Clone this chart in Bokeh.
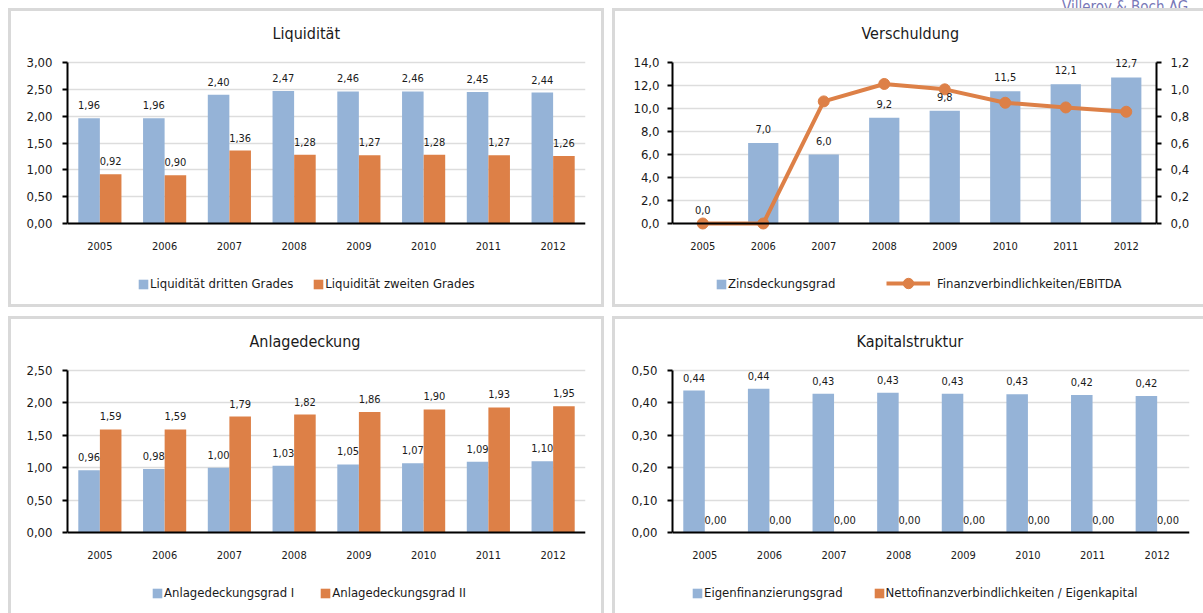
from bokeh.plotting import figure
from bokeh.models import (ColumnDataSource, FactorRange, Range1d, LinearAxis, Legend, LegendItem,
                          LabelSet, FixedTicker, CustomJSTickFormatter, Div)
from bokeh.transform import dodge
from bokeh.layouts import row, column
from bokeh.core.properties import value
from bokeh.embed import file_html
from bokeh.resources import INLINE

# ---------------- data ----------------
years = ["2005", "2006", "2007", "2008", "2009", "2010", "2011", "2012"]

liq_dritten = [1.96, 1.96, 2.40, 2.47, 2.46, 2.46, 2.45, 2.44]
liq_zweiten = [0.92, 0.90, 1.36, 1.28, 1.27, 1.28, 1.27, 1.26]
liq_ticks = [0.0, 0.5, 1.0, 1.5, 2.0, 2.5, 3.0]

zinsdeckung = [0.0, 7.0, 6.0, 9.2, 9.8, 11.5, 12.1, 12.7]
fin_ebitda = [0.0, 0.0, 0.91, 1.04, 1.00, 0.90, 0.865, 0.833]
zins_ticks = [0, 2, 4, 6, 8, 10, 12, 14]
ratio_ticks = [0.0, 0.2, 0.4, 0.6, 0.8, 1.0, 1.2]

anlage_1 = [0.96, 0.98, 1.00, 1.03, 1.05, 1.07, 1.09, 1.10]
anlage_2 = [1.59, 1.59, 1.79, 1.82, 1.86, 1.90, 1.93, 1.95]
anlage_ticks = [0.0, 0.5, 1.0, 1.5, 2.0, 2.5]

eigenfin = [0.438, 0.444, 0.428, 0.431, 0.428, 0.427, 0.424, 0.421]
netto_ek = [0.0, 0.0, 0.0, 0.0, 0.0, 0.0, 0.0, 0.0]
kap_ticks = [0.0, 0.1, 0.2, 0.3, 0.4, 0.5]

# ---------------- style ----------------
FONT = "DejaVu Sans Condensed"
BLUE = "#95B3D7"
ORANGE = "#DD8047"
GRID = "#DDDDDD"
EDGE = "#D9D9D9"
TXT = "#1A1A1A"


def fmt(v, d):
    return f"{v:.{d}f}".replace(".", ",")


def span(vmax, ft, fb, y0, ytop):
    """Range whose 0 and vmax land on pixel rows y0 / ytop of a frame spanning ft..fb."""
    k = (y0 - ytop) / vmax
    return (-(fb - y0) / k, vmax + (ytop - ft) / k)


def style_y(ax, ticks, dec, standoff, vmax):
    ax.ticker = FixedTicker(ticks=ticks)
    ax.formatter = CustomJSTickFormatter(code=f"return tick.toFixed({dec}).replace('.', ',');")
    ax.bounds = (0, vmax)
    ax.axis_line_color = "black"
    ax.axis_line_width = 2
    ax.major_tick_line_color = "black"
    ax.major_tick_line_width = 2
    ax.major_tick_out = 5
    ax.major_tick_in = 0
    ax.minor_tick_line_color = None
    ax.major_label_text_font = FONT
    ax.major_label_text_font_size = "13px"
    ax.major_label_text_color = TXT
    ax.major_label_standoff = standoff


def make_fig(title, w, h, vmax, ticks, dec, frame, y0, ytop, shadow, ystandoff, title_off):
    fl, fr, ft, fb = frame
    lo, hi = span(vmax, ft, fb, y0, ytop)
    p = figure(x_range=FactorRange(*years), y_range=Range1d(lo, hi), width=w, height=h,
               output_backend="svg", toolbar_location=None, tools="", title=title,
               min_border_left=fl, min_border_right=w - fr,
               min_border_top=ft, min_border_bottom=h - fb)
    p.styles = {"box-shadow": shadow}
    p.border_fill_color = None
    p.background_fill_color = None
    p.outline_line_color = None
    p.title.align = "left"
    p.title.offset = title_off
    p.title.text_font = FONT
    p.title.text_font_size = "16px"
    p.title.text_font_style = "normal"
    p.title.text_color = TXT
    p.title.standoff = 15
    p.xgrid.visible = False
    p.ygrid.ticker = FixedTicker(ticks=ticks)
    p.ygrid.grid_line_color = GRID
    p.ygrid.grid_line_width = 1.5
    style_y(p.yaxis[0], ticks, dec, ystandoff, vmax)
    xa = p.xaxis[0]
    xa.fixed_location = 0
    xa.axis_line_color = "black"
    xa.axis_line_width = 2
    xa.major_tick_line_color = None
    xa.major_tick_out = 0
    xa.major_tick_in = 0
    xa.major_label_text_font = FONT
    xa.major_label_text_font_size = "11px"
    xa.major_label_text_color = TXT
    xa.major_label_standoff = 18
    return p


def bar_pair(p, a, b, dec, width=0.333, shift=0.1667):
    src = ColumnDataSource(dict(x=years, a=a, b=b,
                                la=[fmt(v, dec) for v in a], lb=[fmt(v, dec) for v in b]))
    r1 = p.vbar(x=dodge("x", -shift, range=p.x_range), top="a", width=width, source=src,
                fill_color=BLUE, line_color=None)
    r2 = p.vbar(x=dodge("x", shift, range=p.x_range), top="b", width=width, source=src,
                fill_color=ORANGE, line_color=None)
    for off, col in ((-shift, "la"), (shift, "lb")):
        p.add_layout(LabelSet(x=dodge("x", off, range=p.x_range), y=col[1], text=col, source=src,
                              text_align="center", text_baseline="middle", y_offset=13,
                              text_font=value(FONT), text_font_size="11px", text_color=TXT))
    return r1, r2


def add_legend(p, items, x, y, spacing, glyph_w=12, glyph_h=12, standoff=1):
    lg = Legend(items=items, orientation="horizontal", location=(x, y), margin=0, padding=0,
                glyph_width=glyph_w, glyph_height=glyph_h, label_standoff=standoff, spacing=spacing,
                label_height=14, label_text_font=FONT, label_text_font_size="13px",
                label_text_color=TXT, border_line_color=None, background_fill_alpha=0)
    p.add_layout(lg)
    return lg


SH_ALL = f"inset 0 0 0 3px {EDGE}"
SH_LTB = f"inset 3px 0 0 0 {EDGE}, inset 0 3px 0 0 {EDGE}, inset 0 -3px 0 0 {EDGE}"
SH_LTR = f"inset 3px 0 0 0 {EDGE}, inset 0 3px 0 0 {EDGE}, inset -3px 0 0 0 {EDGE}"
SH_LT = f"inset 3px 0 0 0 {EDGE}, inset 0 3px 0 0 {EDGE}"

# ---------------- Liquidität ----------------
p1 = make_fig("Liquidität", 596, 299, 3.0, liq_ticks, 2, (59, 577, 42, 292), 215, 54,
              SH_ALL, 10, 205)
a1, b1 = bar_pair(p1, liq_dritten, liq_zweiten, 2)
add_legend(p1, [LegendItem(label="Liquidität dritten Grades", renderers=[a1]),
                LegendItem(label="Liquidität zweiten Grades", renderers=[b1])], 70, 9, 19)

# ---------------- Verschuldung ----------------
p2 = make_fig("Verschuldung", 591, 299, 14.0, zins_ticks, 1, (60, 544, 42, 292), 215, 54,
              SH_LTB, 8, 189)
r_lo, r_hi = span(1.2, 42, 292, 215, 54)
p2.extra_y_ranges = {"right": Range1d(r_lo, r_hi)}
src2 = ColumnDataSource(dict(x=years, z=zinsdeckung, r=fin_ebitda, lz=[fmt(v, 1) for v in zinsdeckung]))
bz = p2.vbar(x="x", top="z", width=0.5, source=src2, fill_color=BLUE, line_color=None)
p2.add_layout(LabelSet(x="x", y="z", text="lz", source=src2, text_align="center",
                       text_baseline="middle", y_offset=14, text_font=value(FONT),
                       text_font_size="11px", text_color=TXT))
ln = p2.line(x="x", y="r", source=src2, y_range_name="right", line_color=ORANGE, line_width=4)
mk = p2.scatter(x="x", y="r", source=src2, y_range_name="right", size=11, fill_color=ORANGE,
                line_color=ORANGE)
rax = LinearAxis(y_range_name="right")
style_y(rax, ratio_ticks, 1, 9, 1.2)
p2.add_layout(rax, "right")
add_legend(p2, [LegendItem(label="Zinsdeckungsgrad", renderers=[bz])], 43, 9, 19)
add_legend(p2, [LegendItem(label="Finanzverbindlichkeiten/EBITDA", renderers=[ln, mk])], 214, 4, 10,
           glyph_w=44, glyph_h=26, standoff=7)

# ---------------- Anlagedeckung ----------------
p3 = make_fig("Anlagedeckung", 596, 297, 2.5, anlage_ticks, 2, (59, 577, 42, 290), 216, 54,
              SH_LTR, 10, 182)
a3, b3 = bar_pair(p3, anlage_1, anlage_2, 2)
add_legend(p3, [LegendItem(label="Anlagedeckungsgrad I", renderers=[a3]),
                LegendItem(label="Anlagedeckungsgrad II", renderers=[b3])], 84, 6, 25)

# ---------------- Kapitalstruktur ----------------
p4 = make_fig("Kapitalstruktur", 591, 297, 0.5, kap_ticks, 2, (60, 577, 42, 290), 216, 54,
              SH_LT, 10, 184)
a4, b4 = bar_pair(p4, eigenfin, netto_ek, 2)
add_legend(p4, [LegendItem(label="Eigenfinanzierungsgrad", renderers=[a4]),
                LegendItem(label="Nettofinanzverbindlichkeiten / Eigenkapital", renderers=[b4])], 19, 6, 30)

header = Div(text=('<div style="margin-top:-8px;white-space:nowrap;color:#7878B8;'
                   "font-family:'DejaVu Sans Condensed';font-size:15px;line-height:18px\">"
                   'Villeroy &amp; Boch AG</div>'),
             width=141, height=8, margin=(0, 0, 0, 1062), styles={"overflow": "hidden"})

body = column(row(p1, p2, spacing=8), row(p3, p4, spacing=8), spacing=9, margin=(0, 0, 0, 8))
layout = column(header, body, spacing=0)

with open("out.html", "w") as f:
    f.write(file_html(layout, INLINE, title="Kennzahlen"))
